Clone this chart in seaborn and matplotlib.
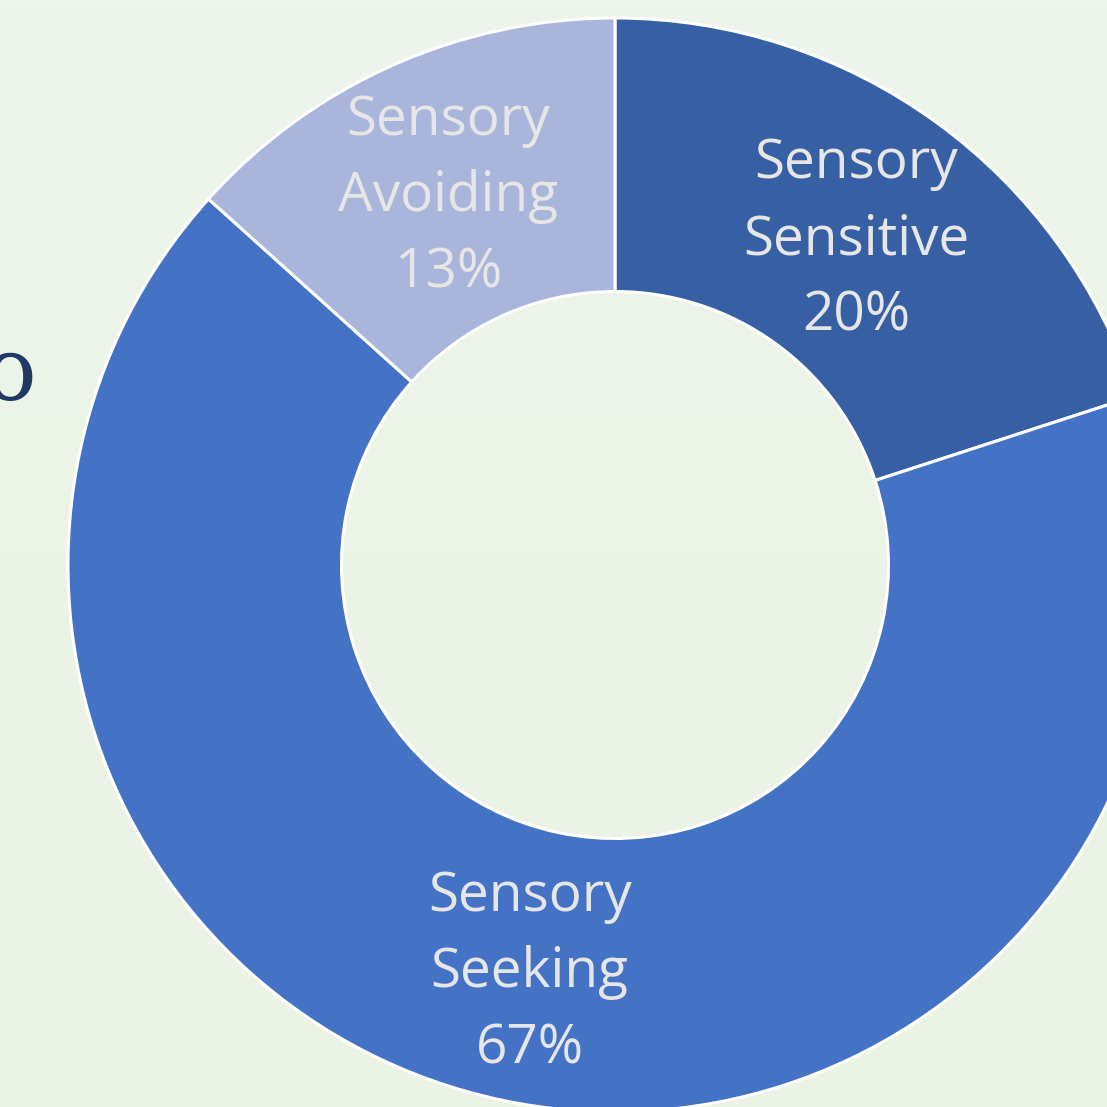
import matplotlib
matplotlib.use("Agg")
import matplotlib.pyplot as plt
import numpy as np
import seaborn as sns
from matplotlib.colors import LinearSegmentedColormap

categories = ["Sensory\nSensitive", "Sensory\nSeeking", "Sensory\nAvoiding"]
counts = [3, 10, 2]
colors = ["#375FA4", "#4472C4", "#A9B5DB"]

sns.set_theme(style="white")
plt.rcParams['font.family'] = ['Open Sans', 'DejaVu Sans']

fig = plt.figure(figsize=(11.07, 11.07), dpi=100)
fig.patch.set_facecolor("#ECF4E8")
ax = fig.add_axes([0, 0, 1, 1])
ax.set_facecolor("#ECF4E8")

XL = (-1.1243, 0.8995)
YL = (-0.9909, 1.0329)

# subtle vertical gradient background
grad = np.linspace(0, 1, 256).reshape(-1, 1)
cmap = LinearSegmentedColormap.from_list("bg", ["#EEF5EC", "#EAF3E4"])
ax.imshow(grad, extent=[XL[0], XL[1], YL[0], YL[1]], aspect='auto',
          cmap=cmap, origin='upper', zorder=0)

total = sum(counts)

wedges = ax.pie(counts, colors=colors, startangle=90, counterclock=False,
                radius=1.0,
                wedgeprops=dict(width=0.5, edgecolor="white", linewidth=2.2))[0]
for w in wedges:
    w.set_zorder(2)

for w, cat, c in zip(wedges, categories, counts):
    ang = np.deg2rad((w.theta1 + w.theta2) / 2)
    r = 0.75
    pct = 100 * c / total
    ax.text(r * np.cos(ang), r * np.sin(ang) - 0.012, f"{cat}\n{pct:.0f}%",
            ha="center", va="center", color="#E7E6E6", fontsize=39.5,
            linespacing=1.5, zorder=3)

ax.text(-1.106, 0.3016, "o", ha="center", va="baseline", fontsize=63,
        color="#1F3864", family=["DejaVu Serif"], zorder=3)

ax.set_xlim(*XL)
ax.set_ylim(*YL)
ax.set_aspect("auto")
ax.axis("off")

fig.savefig("out.png", dpi=100, facecolor=fig.get_facecolor())
